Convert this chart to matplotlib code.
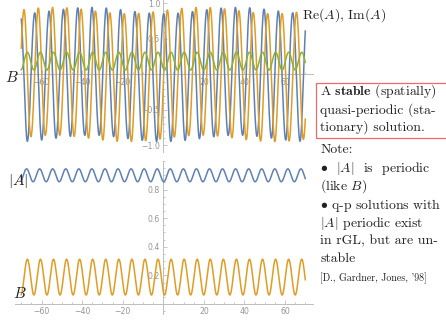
import numpy as np
import matplotlib
matplotlib.use("Agg")
import matplotlib.pyplot as plt
from matplotlib.patches import Rectangle
from matplotlib.ticker import MultipleLocator, FixedLocator

plt.rcParams['mathtext.fontset'] = 'cm'

# ---- data ----
x_range = [-70.0, 70.0]
# |A| : periodic modulus
absA_mean = 0.90
absA_amp = 0.045
mod_period = 6.44
mod_peak_x = -67.4
# B : periodic, same period as |A|
B_mean = 0.188
B_amp = 0.125
B_peak_x = -67.0
# phase of A (carrier)
carrier_period = 7.07
carrier_peak_x = -70.5

top_xticks = [-60, -40, -20, 20, 40, 60]
top_yticks = [-1.0, -0.5, 0.5, 1.0]
bot_yticks = [0.2, 0.4, 0.6, 0.8]

c_blue = '#5E81B5'
c_orange = '#E19C24'
c_green = '#8FB032'
c_axis = '#bdbdbd'
c_tick = '#959595'

x = np.linspace(x_range[0], x_range[1], 4000)
absA = absA_mean + absA_amp * np.cos(2 * np.pi * (x - mod_peak_x) / mod_period)
B = B_mean + B_amp * np.cos(2 * np.pi * (x - B_peak_x) / mod_period)
theta = 2 * np.pi * (x - carrier_peak_x) / carrier_period
reA = absA * np.cos(theta)
imA = absA * np.sin(theta)

W, H = 446, 322
fig = plt.figure(figsize=(W / 100, H / 100), dpi=100)


def px_axes(l, t, r, b):
    return fig.add_axes([l / W, 1 - b / H, (r - l) / W, (b - t) / H])


def style(ax):
    ax.set_facecolor('none')
    for s in ['top', 'right']:
        ax.spines[s].set_visible(False)
    for s in ['left', 'bottom']:
        ax.spines[s].set_position('zero')
        ax.spines[s].set_color(c_axis)
        ax.spines[s].set_linewidth(0.7)
        ax.spines[s].set_zorder(0.5)
    ax.set_axisbelow(True)
    ax.tick_params(which='both', direction='in', colors=c_axis, labelcolor=c_tick,
                   labelsize=5.6, width=0.6, pad=2.2)
    ax.tick_params(which='major', length=3)
    ax.tick_params(which='minor', length=1.6)


# top plot
ax1 = px_axes(15, 0, 313, 152)
ax1.plot(x, reA, color=c_blue, lw=1.1)
ax1.plot(x, imA, color=c_orange, lw=1.1)
ax1.plot(x, B, color=c_green, lw=1.1)
ax1.set_xlim(-73.1, 73.8)
ax1.set_ylim(-1.092, 1.049)
style(ax1)
ax1.xaxis.set_major_locator(FixedLocator(top_xticks))
ax1.xaxis.set_minor_locator(MultipleLocator(5))
ax1.yaxis.set_major_locator(FixedLocator(top_yticks))
ax1.yaxis.set_minor_locator(MultipleLocator(0.1))
ax1.set_xticklabels([f"{v:g}".replace('-', '\u2212') for v in top_xticks])
ax1.set_yticklabels([f"{v:.1f}".replace('-', '\u2212') for v in top_yticks])

# bottom plot
ax2 = px_axes(15, 161, 313, 314)
ax2.plot(x, absA, color=c_blue, lw=1.1)
ax2.plot(x, B, color=c_orange, lw=1.1)
ax2.set_xlim(-73.1, 73.8)
ax2.set_ylim(-0.07, 1.0)
style(ax2)
ax2.xaxis.set_major_locator(FixedLocator(top_xticks))
ax2.xaxis.set_minor_locator(MultipleLocator(5))
ax2.yaxis.set_major_locator(FixedLocator(bot_yticks))
ax2.yaxis.set_minor_locator(MultipleLocator(0.05))
ax2.set_xticklabels([f"{v:g}".replace('-', '\u2212') for v in top_xticks])
ax2.set_yticklabels([f"{v:.1f}" for v in bot_yticks])


def ftext(px, py, s, **kw):
    fig.text(px / W, 1 - py / H, s, **kw)


lab = dict(fontsize=11, color='#222222', ha='center', va='center')
ftext(12, 78, r'$B$', **lab)
ftext(18.5, 181, r'$|A|$', **lab)
ftext(20, 293, r'$B$', **lab)
ftext(301.5, 15, r'$\mathrm{Re}(A),\,\mathrm{Im}(A)$', fontsize=10, color='#222222',
      ha='left', va='center')

fig.add_artist(Rectangle((315.7 / W, 1 - 138 / H), 140 / W, (138 - 82.7) / H,
                         transform=fig.transFigure, fill=False,
                         edgecolor='#EE6A6A', lw=0.9))

tx = dict(fontsize=9.9, color='#222222', ha='left', va='center',
          family=['cmr10', 'DejaVu Serif'])
lines = [
    (91, r'A $\mathbf{stable}$ (spatially)'),
    (110, r'quasi-periodic (sta-'),
    (127.5, r'tionary) solution.'),
    (150, r'Note:'),
    (168.5, r'$\bullet$  $|A|$  is  periodic'),
    (186.5, r'(like $B$)'),
    (206, r'$\bullet$ q-p solutions with'),
    (224, r'$|A|$ periodic exist'),
    (241.5, r'in rGL, but are un-'),
    (259, r'stable'),
]
for py, s in lines:
    ftext(320.5, py, s, **tx)
ftext(320.5, 278, r"[D., Gardner, Jones, '98]", fontsize=7.2, color='#222222',
      ha='left', va='center', family=['cmr10', 'DejaVu Serif'])

fig.savefig('out.png', dpi=100)
